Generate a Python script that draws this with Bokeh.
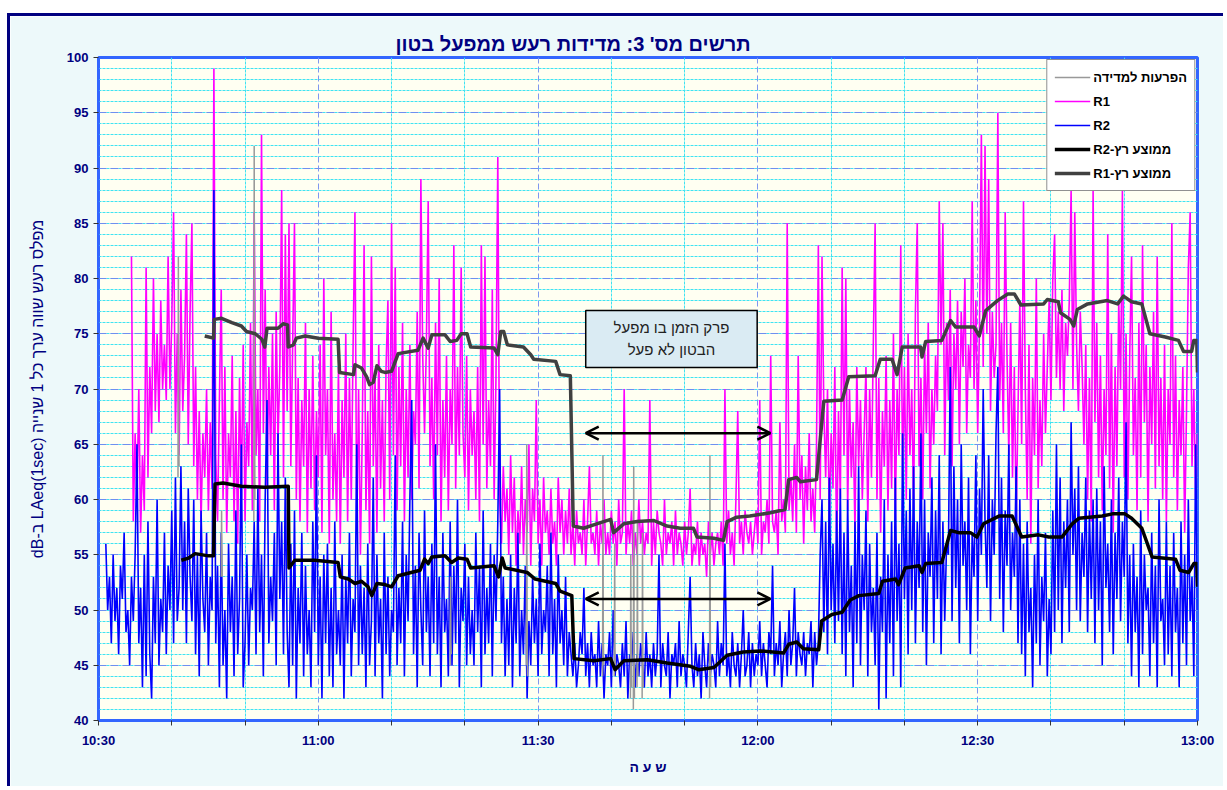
from bokeh.plotting import figure
from bokeh.models import (Range1d, FixedTicker, SingleIntervalTicker, Grid, Legend, LegendItem,
                          Arrow, OpenHead, BoxAnnotation, Label)
from bokeh.embed import file_html
from bokeh.resources import INLINE

# ---------------- data (minutes after 10:30, dB) ----------------
x_tick_pos = [0, 10, 20, 30, 40, 50, 60, 70, 80, 90, 100, 110, 120, 130, 140, 150]
x_tick_labels = {0: "10:30", 30: "11:00", 60: "11:30", 90: "12:00", 120: "12:30", 150: "13:00"}

# R2: one value every 0.25 min starting at 1.0 min
r2_start, r2_step = 1.0, 0.25
r2_values = [
    56,50,53,47,55,49,52,46,54,51,57,48,50,45,53,49,55,65,47,52,
    43,55,44,58,46,42,53,47,60,45,51,48,57,46,54,50,59,47,62,49,
    52,63,50,58,47,61,53,49,60,46,55,44,59,51,48,57,45,53,50,88,
    47,54,43,57,45,50,42,56,48,53,44,59,46,51,65,43,47,55,45,52,
    50,58,46,61,48,55,44,60,69,47,53,49,57,45,66,51,58,46,62,48,
    43,56,45,59,42,52,47,57,44,54,46,50,43,58,48,64,45,53,42,55,
    47,56,44,52,43,58,46,50,45,55,42,53,47,57,44,51,48,65,45,54,
    46,52,43,56,45,49,62,44,55,47,51,42,57,46,53,44,50,48,64,45,
    52,47,58,44,55,49,60,69,46,54,43,57,50,45,59,48,53,44,56,47,
    65,46,53,43,57,48,51,44,58,45,54,47,60,43,52,49,56,45,53,46,
    50,45,57,48,54,43,59,46,52,47,56,44,55,49,58,70,47,53,44,51,
    45,55,43,52,47,57,44,50,46,54,42,49,45,53,47,51,44,56,46,50,
    48,54,44,57,46,51,43,55,47,50,45,53,44,48,46,44,47,43,45,48,
    46,52,44,47,43,48,45,46,43,49,44,47,42,46,45,48,43,50,44,46,
    45,43,47,44,49,42,46,45,48,43,46,44,47,45,43,48,44,46,43,47,
    44,46,55,43,47,45,44,48,42,46,45,47,43,49,44,46,45,43,48,53,
    45,43,47,44,46,42,48,45,43,47,44,46,45,43,49,44,47,45,56,44,
    46,43,48,45,44,47,43,46,50,44,45,48,43,47,44,46,45,49,44,47,
    45,43,48,46,54,44,47,45,49,43,46,48,44,50,45,47,52,44,48,46,
    45,48,44,47,46,49,43,48,45,47,55,60,48,58,46,62,50,56,47,59,
    49,61,46,57,44,60,48,54,43,58,47,63,45,55,50,59,44,56,48,52,
    45,57,41,53,48,60,42,55,47,58,44,62,49,56,43,66,51,59,46,61,
    50,63,47,58,52,66,48,60,45,57,53,62,47,59,51,64,46,58,49,56,
    55,72,49,63,52,60,47,65,54,58,50,62,46,57,53,64,49,61,55,70,
    58,52,64,49,60,55,66,72,51,62,48,59,54,65,50,57,53,63,47,60,
    46,56,44,58,48,52,43,55,47,60,45,53,49,57,44,51,46,59,48,65,
    50,62,47,58,52,60,48,67,55,61,50,63,49,57,53,62,48,59,51,60,
    47,61,50,58,45,63,52,56,48,60,46,57,51,62,49,58,53,67,47,55,
    44,56,48,53,43,59,46,55,50,52,44,57,47,54,43,60,49,51,45,58,
    46,54,44,57,48,52,43,58,47,55,45,60,49,53,44,65,50,
]

# R1: one value every 0.25 min starting at 4.5 min
r1_start, r1_step = 4.5, 0.25
r1_values = [
    82,58,66,60,70,57,64,59,81,62,72,66,80,68,75,67,78,70,74,69,
    82,70,76,86,66,75,64,79,68,73,84,65,77,85,63,72,60,68,58,66,
    62,70,59,67,61,99,64,58,69,79,60,72,57,66,62,73,58,68,56,71,
    60,74,58,67,63,76,59,86,64,70,58,93,66,79,61,72,64,75,59,77,
    65,72,88,62,84,68,85,63,74,85,60,71,58,69,63,76,57,70,61,73,
    59,68,62,74,57,80,64,70,56,77,60,66,58,72,56,69,62,75,58,71,
    60,74,86,57,70,55,66,83,59,68,56,82,63,71,57,74,61,69,58,72,
    78,60,85,64,81,59,72,63,76,58,70,62,74,60,68,65,77,61,89,73,
    66,74,87,63,71,60,76,64,80,58,69,62,73,59,70,65,83,61,72,64,
    81,66,62,73,59,70,64,68,60,72,58,83,65,82,61,69,63,79,60,71,
    91,60,56,63,58,61,55,64,57,62,54,59,56,63,55,60,57,65,54,61,
    58,69,56,60,54,62,57,59,55,61,56,58,54,62,57,60,55,59,56,61,
    55,58,54,59,56,57,55,60,54,58,63,56,57,55,59,54,58,56,60,55,
    57,55,59,56,58,54,60,56,57,70,55,58,56,59,54,57,55,60,56,58,
    55,57,56,69,54,58,55,59,57,56,54,60,55,57,56,58,54,59,55,57,
    56,54,58,55,57,61,54,56,55,58,54,57,55,56,53,58,55,57,54,56,
    57,55,58,54,70,56,59,55,57,54,60,68,56,58,55,59,57,56,58,55,
    57,59,56,69,55,58,57,60,56,73,58,57,59,55,67,58,60,57,85,59,
    62,58,65,57,73,60,64,56,63,59,66,58,61,57,65,83,60,82,68,62,
    70,58,66,61,72,55,68,60,81,64,80,59,70,62,67,57,72,63,69,60,
    66,72,58,70,62,74,85,60,71,57,68,63,73,59,69,61,75,58,70,64,
    83,62,72,60,75,64,70,59,77,85,63,71,60,74,66,76,61,70,65,73,
    68,87,74,85,64,76,69,79,63,75,70,78,65,77,72,80,66,74,71,87,
    70,78,66,76,93,72,92,75,89,68,77,71,74,95,69,76,66,86,73,64,
    76,62,72,58,68,78,65,87,70,60,74,56,71,64,80,61,69,63,75,66,
    72,78,69,80,84,71,77,70,79,68,76,73,78,88,70,86,74,68,77,72,
    65,74,60,71,58,88,67,76,62,73,59,70,64,84,61,75,57,72,63,78,
    70,88,62,75,60,73,82,64,71,59,76,62,83,67,74,58,72,65,77,61,
    82,63,71,60,74,58,70,65,85,62,73,59,69,64,72,57,68,81,86,63,
    70,60,66,
]

# disturbances (start minute, values every 0.05 min)
gray_segments = [
    (10.85, [62, 82, 66, 63]),
    (16.75, [53, 59, 54, 53]),
    (21.20, [58, 92, 70, 60]),
    (48.00, [45, 53, 47, 46]),
    (58.40, [45, 65, 50, 44]),
    (68.80, [44, 64, 48, 45]),
    (70.40, [44, 56, 46, 45]),
    (72.60, [42, 55, 47, 43]),
    (73.00, [41, 63, 48, 42]),
    (73.50, [43, 58, 45, 44]),
    (74.20, [42, 57, 46, 43]),
    (83.40, [42, 64, 49, 43]),
]

r1avg_t = [14.5,15.7,15.8,16.8,18.2,19.5,20.2,21.4,22.3,22.7,23.0,24.5,25.2,25.8,25.9,26.6,27.0,28.2,30.0,32.7,
           32.9,34.8,35.0,35.9,36.6,37.0,37.5,38.0,38.6,39.1,40.0,40.9,43.6,44.3,45.0,45.5,47.3,48.0,48.9,49.5,
           50.3,50.8,54.0,54.5,54.9,55.3,55.8,58.0,59.0,59.4,62.4,63.0,64.4,64.8,66.2,68.0,69.9,70.3,71.7,73.5,
           75.8,77.6,79.4,81.2,81.7,84.0,85.3,85.8,87.1,88.9,91.7,93.7,94.2,95.3,95.8,98.0,98.5,99.0,101.5,102.4,
           106.0,106.7,108.3,109.0,109.7,112.2,112.4,112.9,115.1,116.3,117.0,119.5,120.2,121.1,122.7,124.1,125.0,
           125.9,129.0,129.5,131.0,131.3,132.6,133.1,133.6,135.0,137.7,139.1,139.9,141.0,142.4,143.5,145.6,147.4,
           148.1,149.2,149.5,149.9,150.0]
r1avg_v = [74.8,74.6,76.3,76.4,76.0,75.7,75.2,75.0,74.5,73.8,75.5,75.5,75.9,75.8,73.8,74.0,74.6,74.8,74.6,74.5,
           71.5,71.3,72.2,71.9,71.1,70.4,70.6,72.1,71.6,71.5,71.6,73.2,73.5,74.6,73.7,74.9,74.9,74.3,74.4,75.0,
           75.0,73.8,73.7,73.1,75.2,75.2,74.0,73.8,73.1,72.7,72.5,71.3,71.2,57.6,57.4,57.8,58.2,57.0,57.8,58.0,
           58.1,57.6,57.4,57.4,56.6,56.5,56.3,58.0,58.4,58.5,58.8,59.1,61.8,62.0,61.6,61.8,65.4,68.9,69.0,71.1,
           71.2,72.7,72.7,71.3,73.8,73.8,72.9,74.3,74.4,76.2,75.6,75.6,74.8,77.1,78.0,78.6,78.6,
           77.6,77.7,78.1,77.9,76.9,76.3,75.7,77.2,77.7,78.0,77.7,78.4,77.9,77.7,75.0,74.7,74.4,
           73.4,73.4,74.4,74.4,71.5]

r2avg_t = [11.3,12.3,13.2,15.0,15.7,15.9,17.0,19.5,22.7,25.9,26.0,26.8,29.5,32.7,33.0,34.1,35.0,35.9,36.8,37.3,
           38.0,39.1,40.0,40.9,43.9,44.5,45.0,45.5,47.3,48.2,49.1,50.3,50.8,54.0,54.6,55.1,55.5,58.5,59.6,62.4,
           63.0,64.6,64.9,67.6,69.9,70.5,71.7,74.9,77.6,80.8,81.9,84.0,85.8,88.0,90.3,93.5,94.2,95.3,96.2,98.3,
           98.7,100.1,101.5,102.6,103.8,106.5,107.0,108.8,109.2,110.1,112.0,112.4,112.9,115.1,116.3,117.4,119.0,
           119.9,120.8,122.9,124.7,126.0,128.3,129.7,131.5,132.9,133.8,137.0,138.4,140.1,141.0,142.4,143.8,147.0,
           147.6,148.8,149.5,149.9,150.0]
r2avg_v = [54.5,54.7,55.1,54.9,54.9,61.4,61.5,61.2,61.1,61.2,53.8,54.5,54.5,54.3,53.0,52.8,52.4,52.6,52.1,51.3,
           52.4,52.3,52.1,53.1,53.6,54.6,54.2,54.8,54.9,54.3,54.7,54.6,53.8,54.0,53.0,54.7,53.8,53.4,52.8,52.4,
           51.7,51.3,45.6,45.4,45.6,44.6,45.4,45.5,45.2,44.9,44.6,44.8,45.9,46.2,46.3,46.1,46.9,47.1,46.5,46.4,
           49.0,49.6,49.8,50.9,51.3,51.5,52.6,52.8,52.3,53.8,54.0,53.4,54.2,54.3,57.2,57.0,57.0,
           56.6,57.8,58.5,58.5,56.6,56.8,56.6,56.6,57.8,58.3,58.5,58.7,58.7,58.3,57.4,54.8,54.6,
           53.6,53.4,54.2,54.2,52.1]

# annotation: period when the plant was idle (minutes) and arrow levels (dB)
idle_start, idle_end = 66.5, 91.7
arrow_levels = [66.0, 51.0]

title_text = "תרשים מס' 3:  מדידות רעש ממפעל בטון"
y_label = "dB-ב LAeq(1sec) מפלס רעש שווה ערך כל 1 שנייה"
x_label = "ש ע ה"
legend_labels = ["הפרעות למדידה", "R1", "R2", "R2-ממוצע רץ", "R1-ממוצע רץ"]
note_lines = ["פרק הזמן בו מפעל", "הבטון לא פעל"]

# ---------------- derived columns ----------------
r2_t = [r2_start + r2_step * i for i in range(len(r2_values))]
r1_t = [r1_start + r1_step * i for i in range(len(r1_values))]
gray_t, gray_v = [], []
for t0, vals in gray_segments:
    for i, v in enumerate(vals):
        gray_t.append(t0 + 0.05 * i)
        gray_v.append(v)
    gray_t.append(float("nan"))
    gray_v.append(float("nan"))

FONT = "Liberation Sans"
NAVY = "#000080"

p = figure(width=1216, height=773, output_backend="svg", toolbar_location=None,
           x_range=Range1d(0, 150), y_range=Range1d(40, 100),
           min_border_left=88, min_border_right=29, min_border_top=41, min_border_bottom=69,
           background_fill_color="#FFFFF2", border_fill_color="#EDF9FA",
           outline_line_color="#3366FF", outline_line_width=3)
p.margin = (13, 0, 0, 7)
p.styles = {"border-left": "3px solid #000080", "border-top": "3px solid #000080"}

# title
p.title.text = title_text
p.title.align = "left"
p.title.offset = 297
p.title.text_font = FONT
p.title.text_font_size = "20px"
p.title.text_font_style = "bold"
p.title.text_color = NAVY
p.title.standoff = 5

# axes
p.xaxis.ticker = FixedTicker(ticks=x_tick_pos)
p.xaxis.major_label_overrides = {t: x_tick_labels.get(t, "") for t in x_tick_pos}
p.yaxis.ticker = SingleIntervalTicker(interval=5, num_minor_ticks=5)
for ax in (p.xaxis[0], p.yaxis[0]):
    ax.axis_line_color = "#3366FF"
    ax.axis_line_width = 2
    ax.major_tick_line_color = "#333333"
    ax.major_tick_out = 5
    ax.major_tick_in = 0
    ax.minor_tick_line_color = None
    ax.major_label_text_font = FONT
    ax.major_label_text_font_size = "13px"
    ax.major_label_text_font_style = "bold"
    ax.major_label_text_color = NAVY
    ax.axis_label_text_font = FONT
    ax.axis_label_text_color = NAVY
p.xaxis.axis_label = x_label
p.xaxis.axis_label_text_font_size = "14px"
p.xaxis.axis_label_text_font_style = "bold"
p.xaxis.axis_label_standoff = 8
p.xaxis.major_label_standoff = 7
p.yaxis.axis_label = y_label
p.yaxis.axis_label_text_font_size = "16px"
p.yaxis.axis_label_text_font_style = "normal"
p.yaxis.axis_label_standoff = 18
p.yaxis.major_label_standoff = 5

# grids
p.xgrid.visible = False
p.ygrid.grid_line_color = "#6F8FF0"
p.ygrid.grid_line_dash = "8 4"
p.ygrid.grid_line_width = 1
p.ygrid.minor_grid_line_color = "#3FE3F2"
p.ygrid.minor_grid_line_dash = "3 1"
p.ygrid.minor_grid_line_width = 1
p.add_layout(Grid(dimension=0, ticker=FixedTicker(ticks=[t for t in x_tick_pos if t % 30]),
                  grid_line_color="#3FE3F2", grid_line_dash="3 1", grid_line_width=1))
p.add_layout(Grid(dimension=0, ticker=FixedTicker(ticks=[t for t in x_tick_pos if t % 30 == 0]),
                  grid_line_color="#7F97F0", grid_line_dash="6 3", grid_line_width=1))

# series
r_r1 = p.line(r1_t, r1_values, line_color="#FF00FF", line_width=1.6)
r_r2 = p.line(r2_t, r2_values, line_color="#0000FF", line_width=1.6)
r_gray = p.line(gray_t, gray_v, line_color="#999999", line_width=1.5)
r_a2 = p.line(r2avg_t, r2avg_v, line_color="#000000", line_width=3.5, line_join="round")
r_a1 = p.line(r1avg_t, r1avg_v, line_color="#404040", line_width=3.5, line_join="round")

# arrows
for lvl in arrow_levels:
    p.add_layout(Arrow(start=OpenHead(size=13, line_width=2.5, line_color="black"),
                       end=OpenHead(size=13, line_width=2.5, line_color="black"),
                       x_start=idle_start, y_start=lvl, x_end=idle_end, y_end=lvl,
                       line_width=2.5, line_color="black"))

# note box
p.add_layout(BoxAnnotation(left=66.5, right=89.9, bottom=71.95, top=77.1,
                           fill_color="#DAEBF3", fill_alpha=1.0,
                           line_color="black", line_width=1.5, line_alpha=1.0))
for txt, yv in zip(note_lines, [75.55, 73.55]):
    p.add_layout(Label(x=78.2, y=yv, text=txt, text_align="center", text_baseline="middle",
                       text_font=FONT, text_font_size="15px", text_color="#222222"))

# legend
legend = Legend(items=[LegendItem(label=legend_labels[0], renderers=[r_gray]),
                       LegendItem(label=legend_labels[1], renderers=[r_r1]),
                       LegendItem(label=legend_labels[2], renderers=[r_r2]),
                       LegendItem(label=legend_labels[3], renderers=[r_a2]),
                       LegendItem(label=legend_labels[4], renderers=[r_a1])],
                location="top_right")
legend.label_text_font = FONT
legend.label_text_font_size = "13px"
legend.label_text_font_style = "bold"
legend.label_text_color = "black"
legend.border_line_color = "#222222"
legend.border_line_width = 1
legend.background_fill_color = "white"
legend.background_fill_alpha = 1.0
legend.glyph_width = 36
legend.glyph_height = 20
legend.label_height = 20
legend.label_standoff = 3
legend.spacing = 4
legend.padding = 7
legend.margin = 2
p.add_layout(legend)

open("out.html", "w").write(file_html(p, INLINE))
